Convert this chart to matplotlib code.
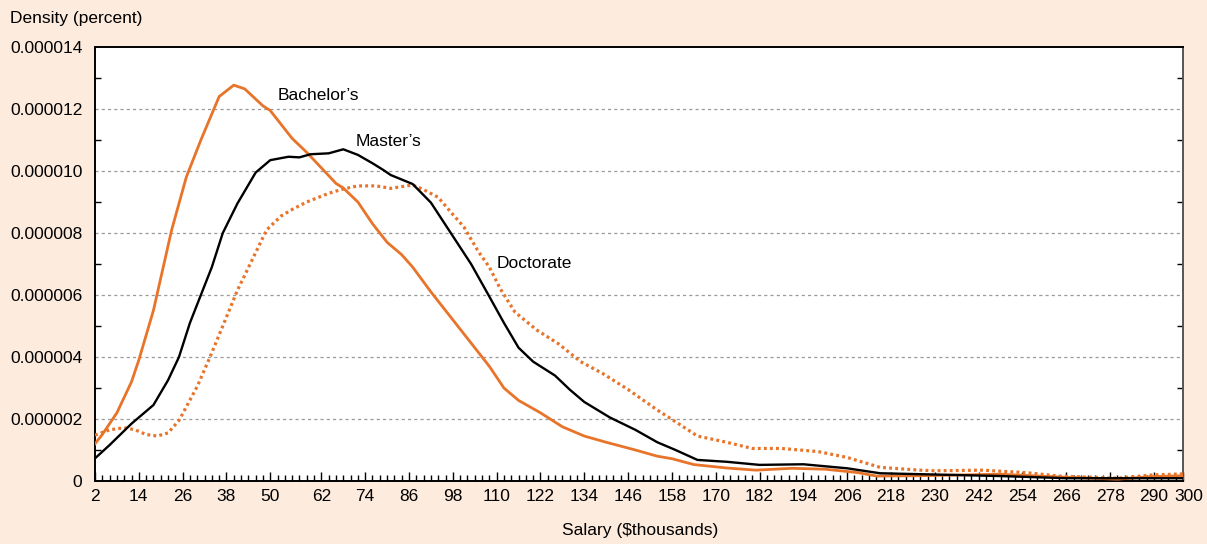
import matplotlib
matplotlib.use("Agg")
import matplotlib.pyplot as plt
import matplotlib.transforms as mtransforms
from matplotlib.ticker import FixedLocator, MultipleLocator, FuncFormatter
import numpy as np

bach_x = [2, 4, 8, 12, 14, 18, 23, 27, 31, 36, 40, 43, 48, 50, 53, 56, 60, 64, 68,
          70, 74, 78, 82, 86, 89, 94, 98, 102, 106, 110, 114, 118, 124, 130, 136,
          142, 150, 156, 160, 166, 175, 183, 193, 202, 211, 216, 228, 250, 264,
          282, 291, 300]
bach_y = [1.2, 1.5, 2.2, 3.2, 3.9, 5.5, 8.1, 9.8, 11.0, 12.4, 12.77, 12.65, 12.1,
          11.95, 11.5, 11.05, 10.6, 10.1, 9.6, 9.45, 9.0, 8.3, 7.7, 7.3, 6.9, 6.1,
          5.5, 4.9, 4.3, 3.7, 3.0, 2.6, 2.2, 1.75, 1.45, 1.25, 1.0, 0.8, 0.72,
          0.53, 0.42, 0.35, 0.41, 0.38, 0.27, 0.16, 0.17, 0.22, 0.14, 0.06, 0.14,
          0.17]

mast_x = [2, 6, 12, 18, 22, 25, 28, 31, 34, 37, 41, 46, 50, 55, 58, 61, 66, 70,
          74, 78, 81, 83, 89, 94, 100, 105, 110, 114, 118, 122, 128, 132, 136,
          143, 150, 156, 161, 167, 175, 184, 196, 208, 217, 228, 250, 268, 300]
mast_y = [0.73, 1.16, 1.85, 2.45, 3.25, 4.0, 5.1, 6.0, 6.9, 8.0, 8.95, 9.95,
          10.35, 10.46, 10.44, 10.54, 10.57, 10.7, 10.52, 10.25, 10.03, 9.87,
          9.58, 8.98, 7.9, 7.0, 5.95, 5.1, 4.3, 3.85, 3.4, 2.95, 2.55, 2.05, 1.65,
          1.25, 1.0, 0.68, 0.62, 0.52, 0.54, 0.41, 0.25, 0.22, 0.16, 0.09, 0.09]

doc_x = [2, 6, 10, 13, 16, 19, 22, 25, 30, 33.5, 37, 41, 44.5, 49, 53, 56, 60, 66,
         70, 74, 79, 83, 89, 92, 96, 100, 103, 107, 110, 113, 117, 123, 129, 135,
         141, 148, 156, 161, 167, 175, 182, 190, 200, 208, 217, 228, 232, 245,
         257, 266, 282, 291, 300]
doc_y = [1.48, 1.65, 1.72, 1.65, 1.5, 1.45, 1.55, 1.95, 3.05, 4.0, 5.0, 6.15,
         7.0, 8.1, 8.55, 8.76, 9.0, 9.28, 9.42, 9.52, 9.52, 9.44, 9.55, 9.4, 9.15,
         8.6, 8.2, 7.4, 6.9, 6.2, 5.45, 4.87, 4.42, 3.85, 3.47, 2.95, 2.29, 1.91,
         1.45, 1.25, 1.05, 1.05, 0.95, 0.76, 0.44, 0.35, 0.33, 0.35, 0.27, 0.16,
         0.09, 0.19, 0.23]

x_labels = [2, 14, 26, 38, 50, 62, 74, 86, 98, 110, 122, 134, 146, 158, 170, 182,
            194, 206, 218, 230, 242, 254, 266, 278, 290, 300]

BG = "#fdebdd"
ORANGE = "#e8742a"
SCALE = 1e-6


def label_pos(v):
    # the source axis has one extra bin between 50 and 62; 300 sits at the end
    if v == 300:
        return 300
    return v if v <= 50 else v + 2


plt.rcParams["font.family"] = ["Liberation Sans", "DejaVu Sans"]

fig = plt.figure(figsize=(12.07, 5.44), dpi=100, facecolor=BG)
ax = fig.add_axes([0.0787, 0.1158, 0.9015, 0.7978])
ax.set_facecolor("white")

ax.plot(bach_x, np.array(bach_y) * SCALE, color=ORANGE, lw=2.0,
        solid_joinstyle="round", zorder=3)
ax.plot(mast_x, np.array(mast_y) * SCALE, color="black", lw=1.7,
        solid_joinstyle="round", zorder=4)
ax.plot(doc_x, np.array(doc_y) * SCALE, color=ORANGE, lw=2.3,
        linestyle=(0, (0.9, 1.0)), zorder=3)

ax.text(52, 12.42 * SCALE, "Bachelor\u2019s", fontsize=12.5, va="center", ha="left")
ax.text(73.5, 10.94 * SCALE, "Master\u2019s", fontsize=12.5, va="center", ha="left")
ax.text(112, 7.03 * SCALE, "Doctorate", fontsize=12.5, va="center", ha="left")

ax.set_xlim(2, 300)
ax.set_ylim(0, 14 * SCALE)

ax.xaxis.set_major_locator(FixedLocator([label_pos(v) for v in x_labels]))
ax.set_xticklabels([str(v) for v in x_labels])
ax.xaxis.set_minor_locator(MultipleLocator(2))
ax.tick_params(axis="x", which="major", direction="in", length=6.5, width=1,
               labelsize=12.5, pad=6, top=False)
ax.tick_params(axis="x", which="minor", direction="in", length=4, width=1,
               top=False)

# nudge the last label ("300") right so it clears "290", as in the source
last = ax.get_xticklabels()[-1]
last.set_transform(last.get_transform() +
                   mtransforms.ScaledTranslation(4 / 72, 0, fig.dpi_scale_trans))

ax.yaxis.set_major_locator(MultipleLocator(2 * SCALE))
ax.yaxis.set_minor_locator(FixedLocator(np.arange(1, 14, 2) * SCALE))
ax.yaxis.set_major_formatter(
    FuncFormatter(lambda v, _: "0" if abs(v) < 1e-12 else f"{v:.6f}"))
ax.tick_params(axis="y", which="major", length=0, labelsize=12.5, pad=9)
ax.tick_params(axis="y", which="minor", direction="in", length=4, width=1,
               right=True, left=True)

for g in np.arange(2, 14, 2):
    ax.axhline(g * SCALE, color="#9a9a9a", lw=0.9, linestyle=(0, (2.5, 2.5)),
               zorder=1)

for side in ["left", "right", "top", "bottom"]:
    ax.spines[side].set_color("black")
    ax.spines[side].set_linewidth(1.4)
ax.spines["right"].set_color("#555555")

fig.text(10 / 1207, 1 - 18 / 544, "Density (percent)", fontsize=12.5,
         ha="left", va="center")
fig.text(640 / 1207, 1 - 530 / 544, "Salary ($thousands)", fontsize=12.5,
         ha="center", va="center")

fig.savefig("out.png", dpi=100, facecolor=BG)
